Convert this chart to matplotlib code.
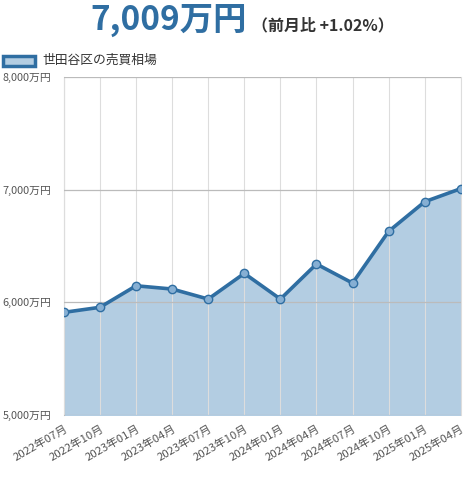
import matplotlib
matplotlib.use('Agg')
import matplotlib.pyplot as plt
from matplotlib.patches import Rectangle

plt.rcParams['font.family'] = ['Noto Sans CJK JP', 'DejaVu Sans']

months = ['2022年07月', '2022年10月', '2023年01月', '2023年04月', '2023年07月', '2023年10月',
          '2024年01月', '2024年04月', '2024年07月', '2024年10月', '2025年01月', '2025年04月']
prices = [5911, 5956, 6147, 6118, 6029, 6257, 6029, 6340, 6171, 6630, 6893, 7009]
yticks = [5000, 6000, 7000, 8000]

line_color = '#2f6ea2'
fill_color = '#b3cde2'

fig = plt.figure(figsize=(4.77, 4.80), dpi=100)
ax = fig.add_axes([0.134, 0.1354, 0.832, 0.7042])

x = list(range(len(months)))
ax.fill_between(x, prices, 5000, color=fill_color, zorder=1)
ax.plot(x, prices, color=line_color, linewidth=2.6, zorder=3,
        marker='o', markersize=6, markerfacecolor='#86afd3', markeredgecolor=line_color,
        markeredgewidth=1.0)

ax.set_xlim(0, len(months) - 1)
ax.set_ylim(5000, 8000)
ax.set_yticks(yticks)
ax.set_yticklabels([f'{v:,}万円' for v in yticks], fontsize=7.8, color='#555555')
ax.set_xticks(x)
ax.set_xticklabels(months, rotation=30, ha='right', rotation_mode='anchor',
                   fontsize=8.2, color='#555555')
ax.tick_params(axis='y', length=0, pad=9)
ax.tick_params(axis='x', length=0, pad=6)

ax.grid(axis='x', color='#dddddd', linewidth=0.8, zorder=2)
ax.grid(axis='y', color='#bbbbbb', linewidth=0.9, zorder=2)
for s in ['top', 'bottom']:
    ax.spines[s].set_visible(False)
ax.spines['left'].set_color('#bbbbbb')
ax.spines['right'].set_color('#dddddd')
ax.set_axisbelow(False)

# header
fig.text(90 / 477, 1 - 20 / 480, '7,009万円', fontsize=24, fontweight='bold', color=line_color,
         ha='left', va='center')
fig.text(252 / 477, 1 - 25 / 480, '（前月比 +1.02%）', fontsize=11.5, fontweight='bold',
         color='#333333', ha='left', va='center')

# legend
fig.patches.append(Rectangle((3 / 477, 1 - 66 / 480), 32 / 477, 10 / 480,
                             transform=fig.transFigure, facecolor=fill_color,
                             edgecolor=line_color, linewidth=2.5))
fig.text(42 / 477, 1 - 60 / 480, '世田谷区の売買相場', fontsize=9.2, color='#333333',
         ha='left', va='center')

fig.savefig('out.png', dpi=100)
